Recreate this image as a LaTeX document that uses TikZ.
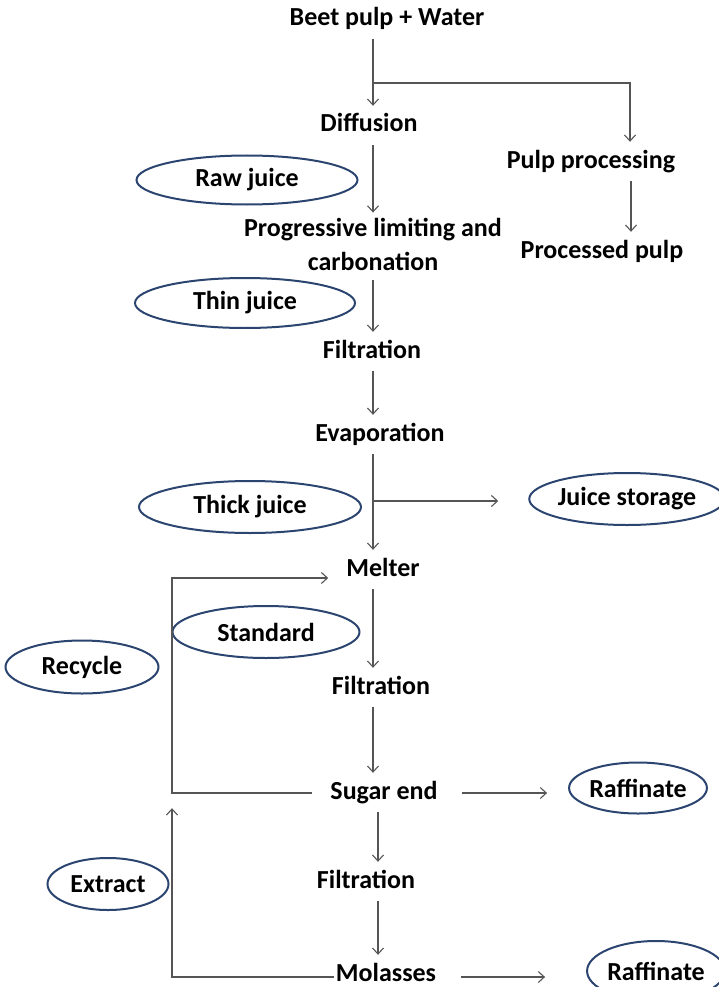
\documentclass[tikz,border=0pt]{standalone}
\usepackage{fontspec}
\setmainfont{Carlito}
\usepackage{tikz}
\usetikzlibrary{positioning,calc,shapes.geometric,arrows.meta}
\definecolor{navy}{HTML}{2B4570}
\definecolor{wire}{HTML}{555555}

\begin{document}
\begin{tikzpicture}[x=1pt,y=-1pt,
  txt/.style={font=\fontsize{26}{34}\selectfont\bfseries, inner sep=0pt},
  stage/.style={txt, text height=17pt, text depth=5pt},
  stream/.style={txt, ellipse, draw=navy, line width=2pt},
  flow/.style={draw=wire, line width=1.1pt, -{Straight Barb[length=6pt,width=11pt]}},
  link/.style={flow, shorten <=8pt, shorten >=9pt}]
\useasboundingbox (0,0) rectangle (719,987);

% main line
\node[stage] (beet) at (387,20) {Beet pulp + Water};
\node[stage] (diff) at (369,126) {Diffusion};
\node[stage] (pulp) at (591,162) {Pulp processing};
\node[stage] (procpulp) at (602,252) {Processed pulp};
\node[txt, align=center] (prog) at (373,244) {Progressive limiting and\\carbonation};
\node[stage] (filta) at (372,352) {Filtration};
\node[stage] (evap) at (380,435) {Evaporation};
\node[stage] (melter) at (383,570) {Melter};
\node[stage] (filtb) at (381,688) {Filtration};
\node[stage] (sugar) at (384,793) {Sugar end};
\node[stage] (filtc) at (366,882) {Filtration};
\node[stage] (molasses) at (386,975) {Molasses};

% streams
\node[stream, minimum width=221pt, minimum height=49pt] (raw) at (247,180) {Raw juice};
\node[stream, minimum width=220pt, minimum height=50pt] (thin) at (245,303) {Thin juice};
\node[stream, minimum width=222pt, minimum height=52pt] (thick) at (250,507) {Thick juice};
\node[stream, minimum width=184pt, minimum height=52pt] (storage) at (627,499) {Juice storage};
\node[stream, minimum width=187pt, minimum height=52pt] (standard) at (266,632) {Standard};
\node[stream, minimum width=153pt, minimum height=53pt] (recycle) at (82,667) {Recycle};
\node[stream, minimum width=137pt, minimum height=51pt] (raffa) at (638,788) {Raffinate};
\node[stream, minimum width=121pt, minimum height=52pt] (extract) at (108,884) {Extract};
\node[stream, minimum width=135pt, minimum height=60pt] (raffb) at (656,971) {Raffinate};

\coordinate (spine) at (373,0);
\coordinate (lowspine) at (378,0);
\coordinate (split) at (373,83);
\coordinate (tap) at (374,501);
\coordinate (back) at (172,700);

\draw[link] (beet.south -| spine) -- (diff.north -| spine);
\draw[flow, shorten >=9pt] (split) -| ([xshift=39pt]pulp.north);
\draw[link] ([xshift=40pt]pulp.south) -- ([xshift=29pt]procpulp.north);
\draw[link, shorten >=5pt] (diff.south -| spine) -- (prog.north -| spine);
\draw[link, shorten <=10pt] (prog.south -| spine) -- (filta.north -| spine);
\draw[link] (filta.south -| spine) -- (evap.north -| spine);
\draw[link] (evap.south -| spine) -- (melter.north -| spine);
\draw[flow, shorten >=30pt] (tap) -- (tap -| storage.west);
\draw[link] (melter.south -| spine) -- (filtb.north -| spine);
\draw[link] (filtb.south -| spine) -- (sugar.north -| spine);
\draw[link] (sugar.south -| lowspine) -- (filtc.north -| lowspine);
\draw[link] (filtc.south -| lowspine) -- (molasses.north -| lowspine);

% recycle and extract loops
\draw[flow, shorten <=18pt, shorten >=18pt] (sugar.west) -| (back) |- ([yshift=-8pt]melter.west);
\draw[flow, shorten <=2pt] ([yshift=-2pt]molasses.west) -| ([yshift=-4pt]back |- sugar.south);

% raffinate outlets
\draw[flow, shorten <=24pt, shorten >=21pt] (sugar.east) -- (sugar.east -| raffa.west);
\draw[flow, shorten <=25pt, shorten >=41pt] ([yshift=-2pt]molasses.east) -- ([yshift=-2pt]molasses.east -| raffb.west);
\end{tikzpicture}
\end{document}
